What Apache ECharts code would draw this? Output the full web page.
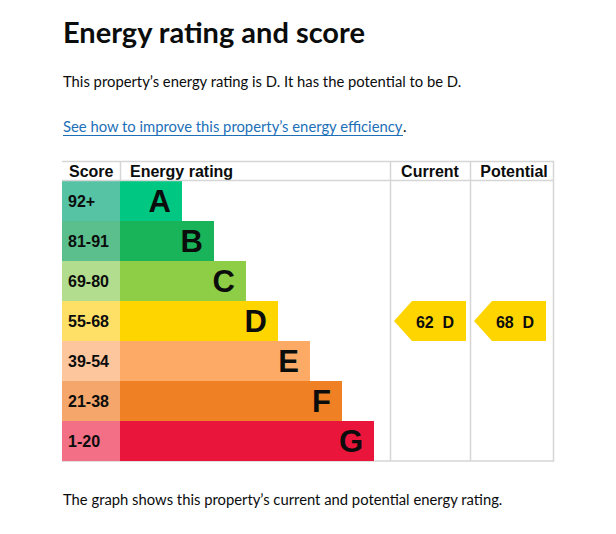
<!DOCTYPE html>
<html>
<head>
<meta charset="utf-8">
<script src="https://cdn.jsdelivr.net/npm/echarts@6/dist/echarts.min.js"></script>
<style>
html,body{margin:0;padding:0;background:#fff;}
#chart{width:616px;height:534px;}
</style>
</head>
<body>
<div id="chart"></div>
<script>
// ---- data ----
const bands = ['A', 'B', 'C', 'D', 'E', 'F', 'G'];
const scoreRanges = ['92+', '81-91', '69-80', '55-68', '39-54', '21-38', '1-20'];
const bandMinScore = [92, 81, 69, 55, 39, 21, 1];
const barRank = [1, 2, 3, 4, 5, 6, 7];
const currentScore = 62;
const potentialScore = 68;
const headers = ['Score', 'Energy rating', 'Current', 'Potential'];
const titleText = 'Energy rating and score';
const introText = 'This property\u2019s energy rating is D. It has the potential to be D.';
const linkText = 'See how to improve this property\u2019s energy efficiency';
const footerText = 'The graph shows this property\u2019s current and potential energy rating.';

// ---- styles ----
const barColors = ['#00c781', '#19b459', '#8dce46', '#ffd500', '#fcaa65', '#ef8023', '#e9153b'];
const scoreColors = ['#55c3a4', '#5bbf8d', '#b2dd8e', '#ffe066', '#fdc69d', '#f4a66b', '#f36f85'];
const ink = '#0b0c0c';
const lineCol = '#d6d6d6';
const bodyFont = 'Lato, "Noto Sans", sans-serif';
const bodySize = '14.8px ';
const tableFont = '"Liberation Sans", Arial, sans-serif';

function bandOf(score) {
  for (let i = 0; i < bandMinScore.length; i++) if (score >= bandMinScore[i]) return i;
  return bandMinScore.length - 1;
}

const T = 181, H = 280;
const chart = echarts.init(document.getElementById('chart'), null, { renderer: 'svg' });

const grids = [
  { left: 62, top: T, width: 58, height: H },
  { left: 120, top: T, width: 270, height: H },
  { left: 390, top: T, width: 80, height: H },
  { left: 470, top: T, width: 83, height: H }
];
const xAxes = grids.map((g, i) => ({
  gridIndex: i, type: 'value', show: false,
  min: i === 1 ? -0.9375 : 0, max: i === 1 ? 7.5 : 1
}));
const yAxes = grids.map((g, i) => ({
  gridIndex: i, type: 'category', data: bands, inverse: true, show: false
}));

function arrowSeries(gi, score) {
  const b = bandOf(score);
  return {
    type: 'custom', xAxisIndex: gi, yAxisIndex: gi,
    data: [[0, b, score]],
    renderItem: function (params, api) {
      const p = api.coord([0, api.value(1)]);
      const h = api.size([0, 1])[1];
      const x0 = params.coordSys.x + 4;
      const y0 = p[1] - h / 2;
      const w = 72, tip = 18;
      return {
        type: 'group',
        children: [
          { type: 'polygon', shape: { points: [[x0, p[1]], [x0 + tip, y0], [x0 + w, y0], [x0 + w, y0 + h], [x0 + tip, y0 + h]] },
            style: { fill: barColors[b] } },
          { type: 'text', style: { text: api.value(2) + '  ' + bands[b], x: x0 + 41, y: p[1] + 1,
            align: 'center', verticalAlign: 'middle', font: 'bold 16px ' + tableFont, fill: ink } }
        ]
      };
    }
  };
}

const option = {
  animation: false,
  grid: grids,
  xAxis: xAxes,
  yAxis: yAxes,
  series: [
    {
      type: 'custom', xAxisIndex: 0, yAxisIndex: 0,
      data: scoreRanges.map((s, i) => [0, i, s]),
      renderItem: function (params, api) {
        const i = api.value(1);
        const p = api.coord([0, i]);
        const h = api.size([0, 1])[1];
        const w = params.coordSys.width;
        return {
          type: 'group',
          children: [
            { type: 'rect', shape: { x: p[0], y: p[1] - h / 2, width: w, height: h }, style: { fill: scoreColors[i] } },
            { type: 'text', style: { text: scoreRanges[i], x: p[0] + 6, y: p[1], verticalAlign: 'middle',
              font: 'bold 16px ' + tableFont, fill: ink } }
          ]
        };
      }
    },
    {
      type: 'custom', xAxisIndex: 1, yAxisIndex: 1,
      data: barRank.map((r, i) => [r, i]),
      renderItem: function (params, api) {
        const i = api.value(1);
        const start = api.coord([-0.9375, i]);
        const end = api.coord([api.value(0), i]);
        const h = api.size([0, 1])[1];
        return {
          type: 'group',
          children: [
            { type: 'rect', shape: { x: start[0], y: start[1] - h / 2, width: end[0] - start[0], height: h }, style: { fill: barColors[i] } },
            { type: 'text', style: { text: bands[i], x: end[0] - 11, y: end[1] + 0.5, align: 'right', verticalAlign: 'middle',
              font: 'bold 31px ' + tableFont, fill: ink } }
          ]
        };
      }
    },
    arrowSeries(2, currentScore),
    arrowSeries(3, potentialScore)
  ],
  graphic: [
    { id: 'title', type: 'text', left: 63, top: 17, style: { text: titleText, font: 'bold 29px ' + bodyFont, fill: ink } },
    { id: 'intro', type: 'text', left: 63, top: 73, style: { text: introText, font: bodySize + bodyFont, fill: ink } },
    { id: 'link', type: 'text', left: 63, top: 118, style: { text: linkText, font: bodySize + bodyFont, fill: '#1d70b8' } },
    { id: 'footer', type: 'text', left: 63, top: 491, style: { text: footerText, font: bodySize + bodyFont, fill: ink } },
    // table lines
    { id: 'lt', type: 'line', shape: { x1: 62, y1: 161.5, x2: 554, y2: 161.5 }, style: { stroke: lineCol, lineWidth: 1.5 }, z: 10 },
    { id: 'lb', type: 'line', shape: { x1: 62, y1: 461, x2: 554, y2: 461 }, style: { stroke: lineCol, lineWidth: 1.5 }, z: 0 },
    { id: 'lr', type: 'line', shape: { x1: 553.5, y1: 161, x2: 553.5, y2: 461.5 }, style: { stroke: lineCol, lineWidth: 1.5 }, z: 10 },
    { id: 'lh', type: 'line', shape: { x1: 62, y1: 180.5, x2: 554, y2: 180.5 }, style: { stroke: lineCol, lineWidth: 1.5 }, z: 10 },
    { id: 'l1', type: 'line', shape: { x1: 120.5, y1: 161, x2: 120.5, y2: 181 }, style: { stroke: lineCol, lineWidth: 1.5 }, z: 10 },
    { id: 'l2', type: 'line', shape: { x1: 390.5, y1: 161, x2: 390.5, y2: 461 }, style: { stroke: lineCol, lineWidth: 1.5 }, z: 10 },
    { id: 'l3', type: 'line', shape: { x1: 470.5, y1: 161, x2: 470.5, y2: 461 }, style: { stroke: lineCol, lineWidth: 1.5 }, z: 10 },
    { id: 'h0', type: 'text', x: 69, y: 171, style: { text: headers[0], verticalAlign: 'middle', font: 'bold 16px ' + tableFont, fill: ink } },
    { id: 'h1', type: 'text', x: 130, y: 171, style: { text: headers[1], verticalAlign: 'middle', font: 'bold 16px ' + tableFont, fill: ink } },
    { id: 'h2', type: 'text', x: 430, y: 171, style: { text: headers[2], align: 'center', verticalAlign: 'middle', font: 'bold 16px ' + tableFont, fill: ink } },
    { id: 'h3', type: 'text', x: 514, y: 171, style: { text: headers[3], align: 'center', verticalAlign: 'middle', font: 'bold 16px ' + tableFont, fill: ink } }
  ]
};
chart.setOption(option);

// link underline + trailing full stop, measured from the link text
const lw = echarts.format.getTextRect ? echarts.format.getTextRect(linkText, bodySize + bodyFont).width : 340;
chart.setOption({
  graphic: [
    { id: 'ul', type: 'line', shape: { x1: 63, y1: 135.5, x2: 63 + lw, y2: 135.5 }, style: { stroke: '#1d70b8', lineWidth: 1 } },
    { id: 'dot', type: 'text', left: 63 + lw, top: 118, style: { text: '.', font: bodySize + bodyFont, fill: ink } }
  ]
});
</script>
</body>
</html>
